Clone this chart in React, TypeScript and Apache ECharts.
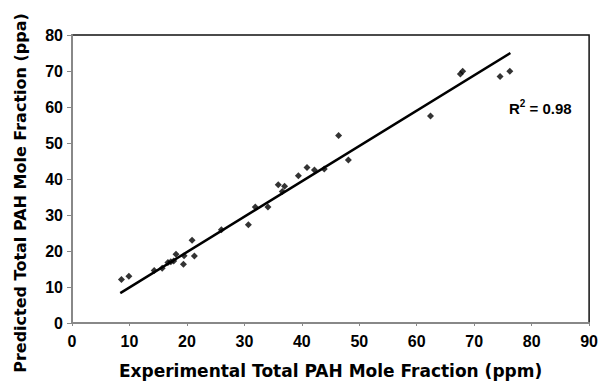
import React, { useEffect, useRef } from "react";
import * as echarts from "echarts";

const experimental = [8.6, 9.9, 14.3, 15.7, 16.7, 17.2, 17.7, 18.1, 19.4, 19.5, 20.9, 21.3, 26.0, 30.7, 31.9, 34.1, 35.9, 36.6, 37.0, 39.4, 40.9, 42.2, 43.9, 46.4, 48.1, 62.4, 67.6, 68.0, 74.5, 76.2];
const predicted = [12.1, 13.0, 14.6, 15.2, 16.8, 17.0, 17.2, 19.1, 16.3, 18.7, 23.0, 18.6, 25.9, 27.3, 32.2, 32.2, 38.4, 36.5, 38.0, 40.9, 43.2, 42.5, 42.8, 52.1, 45.3, 57.5, 69.2, 69.9, 68.5, 69.9];
const fitX = [8.4, 76.3];
const fitY = [8.3, 75.0];
const xTicks = [0, 10, 20, 30, 40, 50, 60, 70, 80, 90];
const yTicks = [0, 10, 20, 30, 40, 50, 60, 70, 80];
const r2Label = "0.98";
const xTitle = "Experimental Total PAH Mole Fraction (ppm)";
const yTitle = "Predicted Total PAH Mole Fraction (ppa)";

export default function App() {
  const ref = useRef<HTMLDivElement>(null);
  useEffect(() => {
    if (!ref.current) return;
    const chart = echarts.init(ref.current, null, { renderer: "svg" });
    const font = "'Liberation Sans', Arial, sans-serif";
    const titleFont = "'DejaVu Sans', 'Liberation Sans', sans-serif";
    chart.setOption({
      animation: false,
      backgroundColor: "#fff",
      textStyle: { fontFamily: font },
      grid: {
        left: 72,
        right: 11,
        top: 35,
        bottom: 59,
        show: true,
        borderColor: "#111",
        borderWidth: 1.5,
      },
      xAxis: {
        type: "value",
        min: xTicks[0],
        max: xTicks[xTicks.length - 1],
        interval: 10,
        name: xTitle,
        nameLocation: "middle",
        nameGap: 39,
        nameTextStyle: { fontFamily: titleFont, fontWeight: "bold", fontSize: 17, color: "#000" },
        axisLine: { show: true, lineStyle: { color: "#888", width: 2 } },
        axisTick: { show: true, length: 3, inside: false, lineStyle: { color: "#888" } },
        axisLabel: { fontFamily: font, fontWeight: "bold", fontSize: 16, color: "#000", margin: 10 },
        splitLine: { show: false },
      },
      yAxis: {
        type: "value",
        min: yTicks[0],
        max: yTicks[yTicks.length - 1],
        interval: 10,
        axisLine: { show: true, lineStyle: { color: "#888", width: 2 } },
        axisTick: { show: true, length: 5, inside: false, lineStyle: { color: "#888" } },
        axisLabel: { fontFamily: font, fontWeight: "bold", fontSize: 16, color: "#000", margin: 9 },
        splitLine: { show: false },
      },
      series: [
        {
          type: "scatter",
          data: experimental.map((x, i) => [x, predicted[i]]),
          symbol: "diamond",
          symbolSize: 7,
          itemStyle: { color: "#000" },
        },
        {
          type: "line",
          data: fitX.map((x, i) => [x, fitY[i]]),
          symbol: "none",
          lineStyle: { color: "#000", width: 2.5 },
        },
      ],
      graphic: [
        {
          type: "text",
          x: 20,
          y: 193,
          rotation: Math.PI / 2,
          style: {
            text: yTitle,
            fontFamily: titleFont,
            fontWeight: "bold",
            fontSize: 16,
            fill: "#000",
            align: "center",
            verticalAlign: "middle",
          },
        },
        {
          type: "text",
          left: 509,
          top: 98,
          style: {
            text: "{b|R}{s|2}{b| = " + r2Label + "}",
            rich: {
              b: { fontFamily: font, fontWeight: "bold", fontSize: 15, fill: "#000", verticalAlign: "bottom" },
              s: { fontFamily: font, fontWeight: "bold", fontSize: 10, fill: "#000", verticalAlign: "top", padding: [0, 0, 8, 0] },
            },
          },
        },
      ],
    });
    return () => chart.dispose();
  }, []);
  return <div ref={ref} style={{ width: 601, height: 384, position: "absolute", left: 0, top: 0 }} />;
}
